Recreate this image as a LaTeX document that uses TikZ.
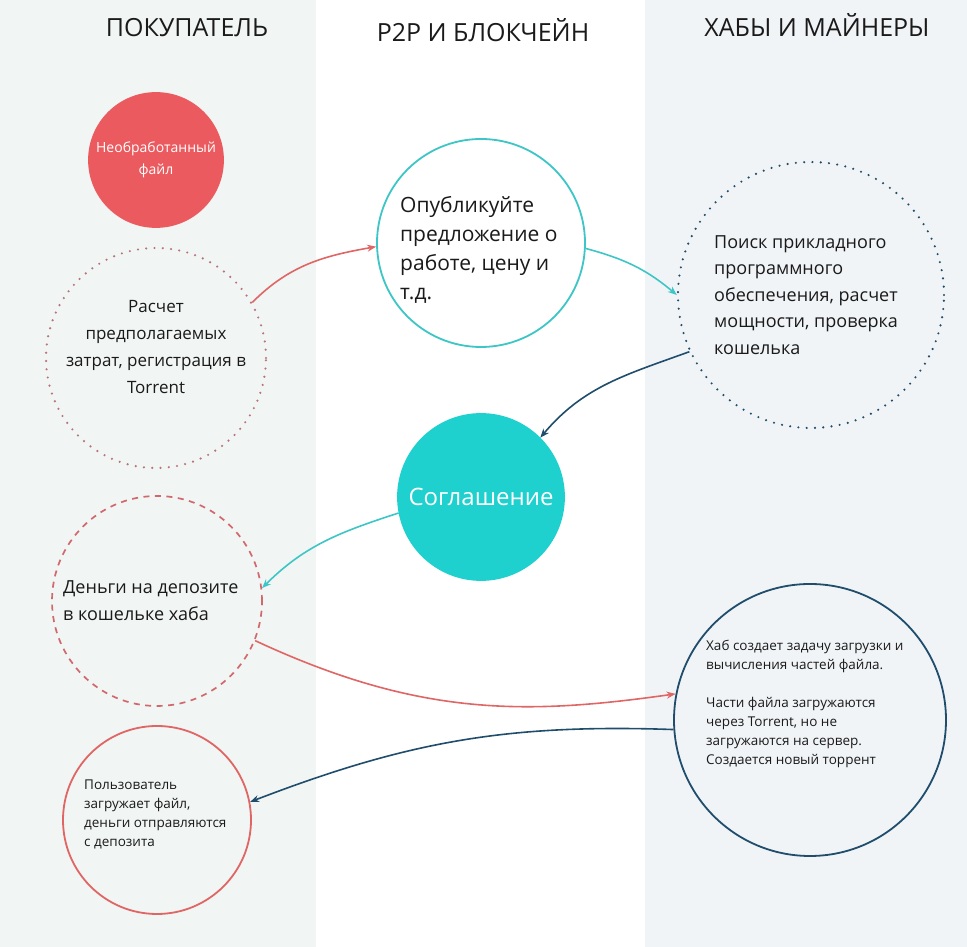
\documentclass[tikz,border=0pt]{standalone}
\usepackage{fontspec}
\setmainfont{Open Sans}
\usepackage{xcolor}
\usetikzlibrary{
    arrows.meta,
    positioning
}
\definecolor{leftbg}{HTML}{F1F5F3}
\definecolor{rightbg}{HTML}{F1F4F7}
\definecolor{redfill}{HTML}{EA5A5E}
\definecolor{redline}{HTML}{E06666}
\definecolor{reddots}{HTML}{B8737A}
\definecolor{reddash}{HTML}{D0686E}
\definecolor{cyanline}{HTML}{3EC6C6}
\definecolor{cyanfill}{HTML}{1ED0CE}
\definecolor{navyline}{HTML}{1F4D6B}
\definecolor{inkcol}{HTML}{1A1A1A}

\begin{document}
\begin{tikzpicture}[x=1pt, y=1pt,
        bubble/.style={circle, draw, line width=1.8pt, inner sep=0pt},
        dots/.style={dash pattern=on 0pt off 8.3pt, line cap=round, line width=2.4pt},
        dashes/.style={dash pattern=on 6pt off 5.5pt, line width=1.7pt},
        arr/.style={line width=1.6pt, -{Stealth[length=9pt, width=7pt]}},
        txt/.style={align=left, anchor=west, inner sep=0pt, text=inkcol},
        head/.style={font=\fontsize{25}{28}\selectfont, text=inkcol}]
                        \useasboundingbox (0, 0) rectangle (967, 947);
                        \fill[white] (0, 0) rectangle (967, 947);
                        \fill[leftbg] (0, 0) rectangle (316, 947);
                        \fill[rightbg] (645, 0) rectangle (967, 947);
                        \node[head] (buyer) at (187, 919) {ПОКУПАТЕЛЬ};
                        \node[head] (chain) at (483, 917) {P2P И БЛОКЧЕЙН};
                        \node[head] (hubs) at (817, 922) {ХАБЫ И МАЙНЕРЫ};
                        \node[bubble, draw=redfill, fill=redfill, minimum size=134pt, align=center, text=white, font=\fontsize{14}{22}\selectfont] (raw) at (156, 787) {Необработанный\\файл};
                        \node[bubble, draw=reddots, dots, minimum size=220pt] (est) at (156, 589) {};
                        \node[bubble, draw=cyanline, minimum size=208pt] (pub) at (481, 704) {};
                        \node[bubble, draw=navyline, dots, minimum size=266pt] (search) at (811, 652) {};
                        \node[bubble, draw=cyanfill, fill=cyanfill, minimum size=166pt, text=white, font=\fontsize{24}{28}\selectfont] (deal) at (481, 450) {Соглашение};
                        \node[bubble, draw=reddash, dashes, minimum size=210pt] (dep) at (157, 346) {};
                        \node[bubble, draw=navyline, minimum size=272pt] (hub) at (810, 227) {};
                        \node[bubble, draw=redline, minimum size=188pt] (user) at (157, 127) {};
                        \node[align=center, inner sep=0pt, text=inkcol, font=\fontsize{17}{27}\selectfont] (esttext) at (156, 600) {Расчет\\предполагаемых\\затрат, регистрация в\\Torrent};
                        \node[txt, font=\fontsize{21}{29}\selectfont] (pubtext) at (400, 697) {Опубликуйте\\предложение о\\работе, цену и\\т.д.};
                        \node[txt, font=\fontsize{18}{26.5}\selectfont] (searchtext) at (714, 652) {Поиск прикладного\\программного\\обеспечения, расчет\\мощности, проверка\\кошелька};
                        \node[txt, font=\fontsize{18}{27}\selectfont] (deptext) at (63, 346) {Деньги на депозите\\в кошельке хаба};
                        \node[txt, font=\fontsize{13.5}{19}\selectfont] (hubtext) at (706, 243) {Хаб создает задачу загрузки и\\вычисления частей файла.\\[19pt]Части файла загружаются\\через Torrent, но не\\загружаются на сервер.\\Создается новый торрент};
                        \node[txt, font=\fontsize{13.5}{19}\selectfont] (usertext) at (84, 133) {Пользователь\\загружает файл,\\деньги отправляются\\с депозита};
                        \draw[arr, draw=redline] (est.30) to[out=45, in=190] (pub.182);
                        \draw[arr, draw=cyanline] (pub.-3) to[out=-15, in=140] (search.180);
                        \draw[arr, draw=navyline] (search.205) to[out=200, in=50] (deal.45);
                        \draw[arr, draw=cyanline] (deal.191) to[out=198, in=45] (dep.7);
                        \draw[arr, draw=redline] (dep.-22) to[out=-25, in=188, out looseness=1.1, in looseness=0.9] (hub.169);
                        \draw[arr, draw=navyline] (hub.184) to[out=178, in=21] (user.11);
                    \end{tikzpicture}
\end{document}
